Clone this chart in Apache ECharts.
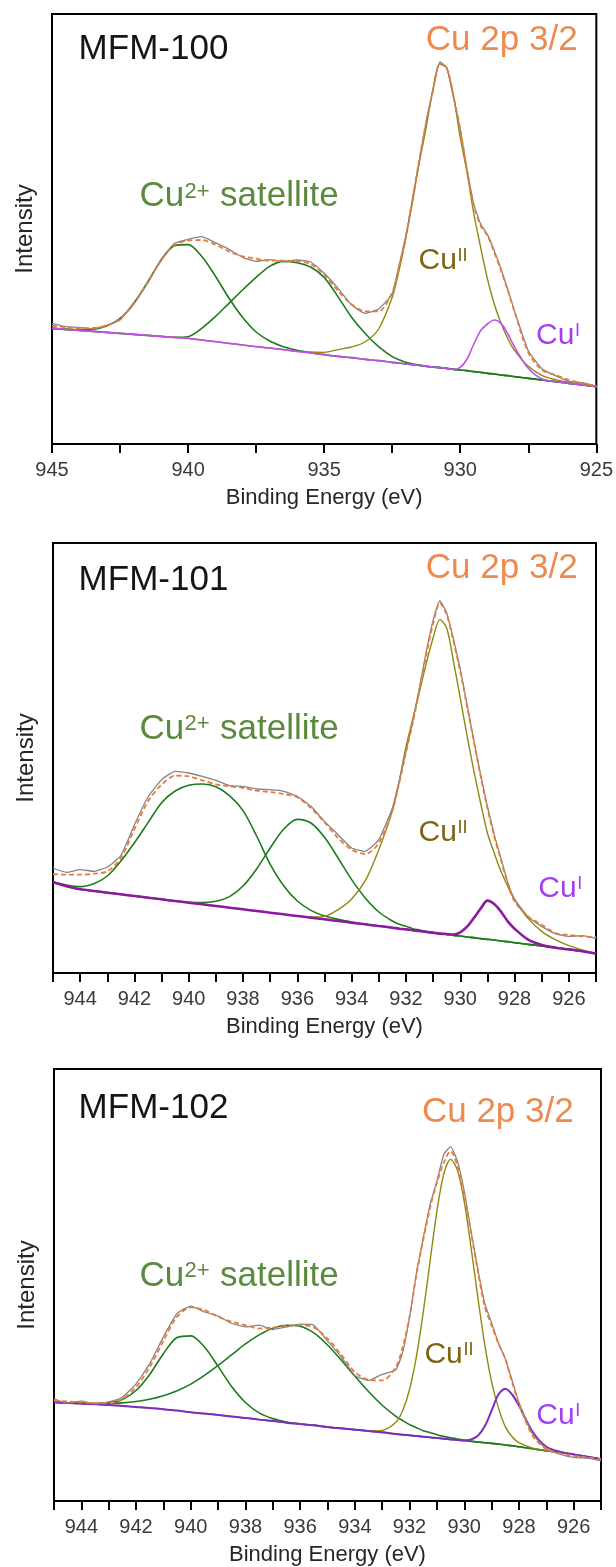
<!DOCTYPE html>
<html><head><meta charset="utf-8">
<script src="https://cdn.jsdelivr.net/npm/echarts@6/dist/echarts.min.js"></script>
<style>html,body{margin:0;padding:0;background:#fff}#c{width:616px;height:1567px}</style>
</head><body><div id="c"></div>
<script>
// Binding energy grid (eV), shared by all three panels
const ENERGY = [945,944.5,944,943.5,943,942.5,942,941.5,941,940.5,940,939.5,939,938.5,938,937.5,937,936.5,936,935.5,935,934.5,934,933.5,933,932.5,932.25,932,931.75,931.5,931.25,931,930.75,930.5,930.25,930,929.75,929.5,929.25,929,928.75,928.5,928.25,928,927.5,927,926.5,926,925.5,925];

// ---- MFM-100 ----
const p1Sat1 = [347,344,343,344,354,377,421,484,550,595,598,563,504,438,380,336,309,292,281,274,268,263,259,254,250,245,243,240,238,236,233,231,229,227,224,222,220,217,215,212,210,207,205,202,197,192,187,182,177,172];
const p1Sat2 = [347,344,341,338,335,332,329,326,323,320,322,347,382,422,462,500,533,548,544,531,500,443,381,332,292,262,253,245,240,237,233,231,229,227,224,222,220,217,215,212,210,207,205,202,197,192,187,182,177,172];
const p1CuII = [347,344,341,338,335,332,329,326,323,320,317,312,307,302,297,292,288,283,278,276,275,283,291,306,345,440,520,617,728,846,950,1065,1140,1128,1045,920,815,690,590,495,420,362,315,280,233,206,193,185,178,172];
const p1CuI  = [347,344,341,338,335,332,329,326,323,320,317,312,307,302,297,292,288,283,278,273,268,263,259,254,250,245,243,240,238,236,233,231,229,227,224,230,255,300,340,360,372,362,330,290,227,195,187,182,177,172];
const p1Fit  = [355,350,347,348,355,375,420,482,550,597,610,612,598,578,563,556,550,550,548,540,508,460,420,398,398,455,530,625,735,855,965,1060,1140,1128,1045,945,820,715,655,625,575,520,460,395,275,222,207,192,182,175];
const p1Raw  = [362,352,350,345,356,372,424,480,553,602,614,622,604,584,560,548,553,547,552,546,512,468,418,392,405,450,535,622,738,852,968,1062,1146,1130,1040,944,824,718,660,628,580,525,462,398,280,226,205,188,184,172];

// ---- MFM-101 ----
const p2Sat1 = [274,264,259,268,291,336,391,451,511,546,563,567,559,532,487,411,326,261,216,188,171,161,153,146,141,136,133,131,128,126,123,121,118,116,113,111,108,106,103,101,99,96,94,91,86,81,76,71,65,58];
const p2Sat2 = [272,260,251,246,241,236,231,226,221,216,212,211,215,229,261,312,375,432,461,450,407,345,280,225,183,156,146,140,133,129,125,122,118,116,113,111,108,106,103,101,99,96,94,91,86,81,76,71,65,58];
const p2CuII = [272,260,251,246,241,236,231,226,221,216,211,206,201,196,191,186,181,176,171,168,170,190,222,277,370,487,575,678,762,845,930,1005,1060,1035,935,825,712,607,510,420,360,305,260,220,163,125,100,82,69,58];
const p2CuI  = [272,260,251,246,241,236,231,226,221,216,211,206,201,196,191,186,181,176,171,166,161,156,151,146,141,136,133,131,128,126,123,121,118,117,115,122,139,165,193,217,207,184,155,133,100,84,76,71,65,58];
const p2Fit  = [297,295,295,298,305,345,432,515,565,592,590,578,566,560,555,547,543,537,527,495,452,405,370,357,390,487,570,660,750,850,955,1048,1110,1075,995,905,800,695,590,495,410,338,270,215,170,145,120,114,110,107];
const p2Raw  = [315,302,310,305,318,352,445,528,580,605,600,590,578,562,560,552,550,545,530,500,455,415,375,365,400,495,575,665,755,858,965,1058,1117,1080,1002,912,806,698,595,500,415,344,272,222,168,140,118,110,112,104];

// ---- MFM-102 ----
const p3Sat1 = [295,293,291,290,293,303,330,378,440,488,493,460,402,341,294,263,246,236,230,226,221,217,213,209,205,200,198,196,194,192,190,188,186,184,182,180,178,176,174,172,170,167,165,162,156,150,145,139,132,125];
const p3Sat2 = [295,293,292,292,292,293,297,304,314,329,349,375,405,437,469,496,516,525,522,502,466,421,373,327,286,253,240,228,219,210,204,198,193,189,185,182,179,176,174,172,170,167,165,162,156,150,145,139,132,125];
const p3CuII = [295,293,291,289,287,284,281,278,274,270,265,261,257,252,248,243,239,234,230,226,221,217,213,209,211,235,270,333,431,563,716,865,976,1020,988,893,756,606,467,356,278,222,192,174,158,150,145,139,132,125];
const p3CuI  = [295,293,291,289,287,284,281,278,274,270,265,261,257,252,248,243,239,234,230,226,221,217,213,209,205,200,198,196,194,192,190,188,186,184,182,181,184,195,223,270,318,335,318,285,207,162,147,139,132,125];
const p3Fit  = [300,297,295,292,292,305,340,400,478,550,578,570,550,535,525,515,518,523,525,518,485,437,385,362,360,400,460,550,675,780,875,950,1010,1045,1000,910,800,685,580,525,470,425,355,290,195,155,142,135,130,125];
const p3Raw  = [305,292,298,290,296,310,350,410,490,560,582,565,552,530,520,525,512,520,528,525,478,430,375,360,378,392,445,548,680,785,885,955,1035,1058,1015,925,805,690,590,532,472,425,360,295,200,155,140,130,128,120];

const SAMPLES = ['MFM-100','MFM-101','MFM-102'];
const X_LABEL = 'Binding Energy (eV)';
const Y_LABEL = 'Intensity';

const PANELS = [
  {sat1:p1Sat1, sat2:p1Sat2, cu2:p1CuII, cu1:p1CuI, fit:p1Fit, raw:p1Raw},
  {sat1:p2Sat1, sat2:p2Sat2, cu2:p2CuII, cu1:p2CuI, fit:p2Fit, raw:p2Raw},
  {sat1:p3Sat1, sat2:p3Sat2, cu2:p3CuII, cu1:p3CuI, fit:p3Fit, raw:p3Raw}
];

const GRIDS = [
  {left:52, top:14, width:546, height:430},
  {left:53, top:543, width:543, height:430},
  {left:54, top:1069, width:547, height:433}
];
const CUI_STYLE = [{c:'#C24EE8', w:1.6}, {c:'#8B1A9E', w:2.6}, {c:'#7E2CC0', w:2}];

const SANS = '"Liberation Sans", Arial, Helvetica, sans-serif';
const NARROW = '"Liberation Sans Narrow", "Arial Narrow", "Liberation Sans", Arial, sans-serif';

const chart = echarts.init(document.getElementById('c'), null, {renderer:'canvas'});

const grid = GRIDS.map(g => Object.assign({show:true, borderColor:'#000', borderWidth:2, backgroundColor:'transparent'}, g));

const xAxis = GRIDS.map((g,i) => ({
  gridIndex:i, type:'value', min:925, max:945, inverse:true,
  interval: i === 0 ? 2.5 : 1,
  axisLine:{show:true, onZero:false, lineStyle:{color:'#000', width:2}},
  axisTick:{show:true, inside:false, length:9, lineStyle:{color:'#000', width:2}},
  axisLabel:{
    margin:16, fontSize:20, color:'#3a3a3a', fontFamily:NARROW,
    showMinLabel:true, showMaxLabel:true,
    formatter: v => i === 0 ? (Math.abs(v % 5) < 1e-6 ? String(v) : '') : (Math.abs(v % 2) < 1e-6 ? String(v) : '')
  },
  splitLine:{show:false},
  name:X_LABEL, nameLocation:'middle', nameGap:43,
  nameTextStyle:{fontSize:22, color:'#262626', fontFamily:SANS}
}));

const yAxis = GRIDS.map((g,i) => ({
  gridIndex:i, type:'value', min:0, max:1290,
  axisLine:{show:true, lineStyle:{color:'#000', width:2}},
  axisTick:{show:false}, axisLabel:{show:false}, splitLine:{show:false},
  name:Y_LABEL, nameLocation:'middle', nameGap:15, nameRotate:90,
  nameTextStyle:{fontSize:24, color:'#262626', fontFamily:SANS}
}));

function line(i, vals, color, width, dashed, z, smooth) {
  return {
    type:'line', xAxisIndex:i, yAxisIndex:i,
    data: ENERGY.map((e,k) => [e, vals[k]]),
    showSymbol:false, symbol:'none', smooth: smooth, silent:true,
    lineStyle:{color:color, width:width, type: dashed ? [5,3] : 'solid'},
    z:z, animation:false, clip:true
  };
}

const series = [];
PANELS.forEach((p,i) => {
  series.push(line(i, p.sat1, '#1E7A1E', 1.6, false, 2, 0.3));
  series.push(line(i, p.sat2, '#1E7A1E', 1.6, false, 2, 0.3));
  series.push(line(i, p.cu2, '#8E8A0E', 1.4, false, 3, 0.3));
  series.push(line(i, p.cu1, CUI_STYLE[i].c, CUI_STYLE[i].w, false, 4, 0.3));
  series.push(line(i, p.raw, '#858585', 1.3, false, 5, 0.15));
  series.push(line(i, p.fit, '#E97A3A', 1.8, true, 6, 0.3));
});

function txt(x, y, s, size, color, align) {
  return {type:'text', x:x, y:y, z:100, silent:true,
    style:{text:s, fontSize:size, fontFamily:SANS, fill:color,
      textAlign:align || 'left', align:align || 'left',
      textVerticalAlign:'middle', verticalAlign:'middle'}};
}

const LABEL_POS = [
  {mfm:[78.6,49.2], cu:[577.6,40], sat:[139.5,196.7], c2:[418.5,261], c1:[536,336]},
  {mfm:[78.6,580], cu:[577.6,568], sat:[139.5,729], c2:[418.5,832.5], c1:[538.3,889]},
  {mfm:[78.6,1108], cu:[573.7,1112], sat:[139.5,1276], c2:[424.4,1355], c1:[536.3,1416]}
];

const graphic = [];
LABEL_POS.forEach((L,i) => {
  graphic.push(txt(L.mfm[0], L.mfm[1], SAMPLES[i], 35, '#151515'));
  graphic.push(txt(L.cu[0], L.cu[1], 'Cu 2p 3/2', 35, '#EC8A4F', 'right'));
  graphic.push(txt(L.sat[0], L.sat[1], 'Cu', 35, '#5A8A3E'));
  graphic.push(txt(L.sat[0] + 45, L.sat[1] - 4.6, '2+', 22, '#5A8A3E'));
  graphic.push(txt(L.sat[0] + 80.5, L.sat[1], 'satellite', 35, '#5A8A3E'));
  graphic.push(txt(L.c2[0], L.c2[1], 'Cu', 30, '#7D6411'));
  graphic.push(txt(L.c2[0] + 39, L.c2[1] - 4.5, 'II', 18, '#7D6411'));
  graphic.push(txt(L.c1[0], L.c1[1], 'Cu', 30, '#A23FF2'));
  graphic.push(txt(L.c1[0] + 39, L.c1[1] - 4.5, 'I', 18, '#A23FF2'));
});

chart.setOption({
  animation:false,
  backgroundColor:'#ffffff',
  grid:grid, xAxis:xAxis, yAxis:yAxis, series:series, graphic:graphic
});
</script></body></html>
